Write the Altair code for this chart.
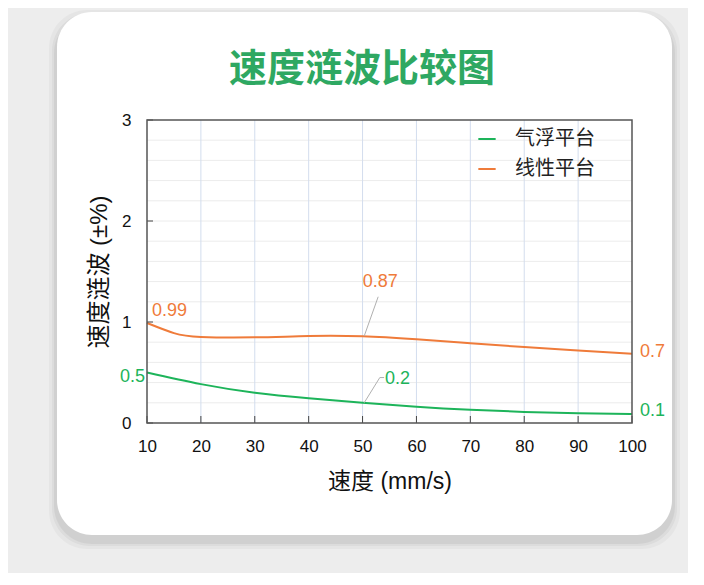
import altair as alt
import pandas as pd

# ---- data ----
speeds = [10, 20, 30, 40, 50, 60, 70, 80, 90, 100]
air_speeds = [10, 20, 30, 40, 50, 60, 70, 80, 90, 100]
air_bearing = [0.50, 0.385, 0.30, 0.245, 0.20, 0.16, 0.13, 0.11, 0.097, 0.09]
linear_speeds = [10, 15, 20, 30, 40, 50, 60, 70, 80, 90, 100]
linear_stage = [0.99, 0.89, 0.852, 0.848, 0.861, 0.858, 0.828, 0.79, 0.752, 0.719, 0.686]
series_names = ["气浮平台", "线性平台"]
series_colors = ["#1db45a", "#ef7b3a"]
y_ticks = [0, 1, 2, 3]
minor_levels = [0.2, 0.4, 0.6, 0.8, 1.0, 1.2, 1.4, 1.6, 1.8, 2.0, 2.2, 2.4, 2.6, 2.8]

# annotation anchors (data coords)
lin_leader_x = [50.3, 52.9]
lin_leader_y = [0.86, 1.25]
air_leader_x = [50.3, 53.2, 54.0]
air_leader_y = [0.20, 0.45, 0.45]

W, H = 485, 303
CJK = "Noto Sans CJK SC"
LAT = "Liberation Sans"
MIX = "Liberation Sans, Noto Sans CJK SC"

df = pd.DataFrame({
    "speed": air_speeds + linear_speeds,
    "ripple": air_bearing + linear_stage,
    "series": [series_names[0]] * len(air_speeds) + [series_names[1]] * len(linear_speeds),
})

xs = alt.Scale(domain=[10, 100], nice=False, zero=False)
ys = alt.Scale(domain=[0, 3], nice=False)
one = pd.DataFrame({"a": [0]})

# card background + soft shadow
shadows = []
for grow, op in [(8, 0.03), (5, 0.04), (3, 0.05)]:
    shadows.append(
        alt.Chart(one).mark_rect(cornerRadius=38, fill="#000", opacity=op).encode(
            x=alt.value(-90 - grow), x2=alt.value(525 + grow),
            y=alt.value(-108 - grow + 6), y2=alt.value(415 + grow + 6),
        )
    )
card = alt.Chart(one).mark_rect(cornerRadius=35, fill="white").encode(
    x=alt.value(-90), x2=alt.value(525), y=alt.value(-108), y2=alt.value(415)
)

title = alt.Chart(one).mark_text(
    text="速度涟波比较图", font=CJK, fontSize=38, fontWeight="bold",
    color="#2ea862", baseline="middle", align="center"
).encode(x=alt.value(215), y=alt.value(-50))

hgrid = alt.Chart(pd.DataFrame({"lvl": minor_levels})).mark_rule(
    color="#ececec", strokeWidth=1
).encode(y=alt.Y("lvl:Q", scale=ys))

vgrid = alt.Chart(pd.DataFrame({"s": speeds[1:-1]})).mark_rule(
    color="#d3ddee", strokeWidth=1
).encode(x=alt.X("s:Q", scale=xs))

xticks = alt.Chart(pd.DataFrame({"s": speeds})).mark_rule(
    color="#444", strokeWidth=1
).encode(x=alt.X("s:Q", scale=xs), y=alt.value(H), y2=alt.value(H - 7))

yticks = alt.Chart(pd.DataFrame({"t": y_ticks})).mark_rule(
    color="#444", strokeWidth=1
).encode(y=alt.Y("t:Q", scale=ys), x=alt.value(0), x2=alt.value(6))

frame = alt.Chart(one).mark_rect(fill=None, stroke="#555", strokeWidth=1.5).encode(
    x=alt.value(0), x2=alt.value(W), y=alt.value(0), y2=alt.value(H)
)

lines = alt.Chart(df).mark_line(strokeWidth=2, interpolate="natural").encode(
    x=alt.X("speed:Q", scale=xs,
            axis=alt.Axis(values=speeds, grid=False, ticks=False, domain=False,
                          labelFont=LAT, labelFontSize=17, labelColor="#111",
                          labelPadding=15, labelFlush=False,
                          title="速度 (mm/s)", titleFont=MIX,
                          titleFontSize=23, titleFontWeight="normal",
                          titleColor="#111", titlePadding=16, zindex=1)),
    y=alt.Y("ripple:Q", scale=ys,
            axis=alt.Axis(values=y_ticks, format="d", grid=False, ticks=False,
                          domain=False, labelFont=LAT, labelFontSize=17,
                          labelColor="#111", labelPadding=16, labelFlush=False,
                          title="速度涟波 (±%)", titleFont=MIX,
                          titleFontSize=24, titleFontWeight="normal",
                          titleColor="#111", titlePadding=10, zindex=1)),
    color=alt.Color("series:N",
                    scale=alt.Scale(domain=series_names, range=series_colors),
                    sort=series_names,
                    legend=alt.Legend(orient="none", legendX=330, legendY=9,
                                      title=None, symbolType="stroke",
                                      symbolStrokeWidth=2, symbolSize=300,
                                      labelFont=CJK, labelFontSize=20,
                                      labelColor="#222", rowPadding=10,
                                      labelOffset=18)),
)

leaders = alt.Chart(pd.DataFrame({
    "x": lin_leader_x + air_leader_x,
    "y": lin_leader_y + air_leader_y,
    "g": ["a"] * len(lin_leader_x) + ["b"] * len(air_leader_x),
    "o": list(range(len(lin_leader_x))) + list(range(len(air_leader_x))),
})).mark_line(color="#b0b0b0", strokeWidth=1).encode(
    x=alt.X("x:Q", scale=xs), y=alt.Y("y:Q", scale=ys), detail="g:N", order="o:Q"
)


def label(txt, x, y, color, align, dx, dy):
    return alt.Chart(pd.DataFrame({"x": [x], "y": [y]})).mark_text(
        text=txt, font=LAT, fontSize=18, color=color, align=align,
        baseline="middle", dx=dx, dy=dy
    ).encode(x=alt.X("x:Q", scale=xs), y=alt.Y("y:Q", scale=ys))


labels = [
    label("0.99", linear_speeds[0], linear_stage[0], series_colors[1], "left", 5, -12),
    label("0.87", lin_leader_x[1], lin_leader_y[1], series_colors[1], "center", 2, -15),
    label("0.2", air_leader_x[2], air_leader_y[2], series_colors[0], "left", 1, 1),
    label("0.5", air_speeds[0], air_bearing[0], series_colors[0], "right", -2, 4),
    label("0.7", linear_speeds[-1], linear_stage[-1], series_colors[1], "left", 8, -2),
    label("0.1", air_speeds[-1], air_bearing[-1], series_colors[0], "left", 8, -3),
]

chart = alt.layer(
    *shadows, card, title, hgrid, vgrid, lines, leaders, xticks, yticks, frame, *labels
).properties(
    width=W, height=H,
    autosize=alt.AutoSizeParams(type="none"),
    padding={"left": 139, "top": 112, "right": 56, "bottom": 150},
    background="#ededed",
).configure_view(stroke=None)

chart.save("out.html", embed_options={"renderer": "svg", "actions": False})
